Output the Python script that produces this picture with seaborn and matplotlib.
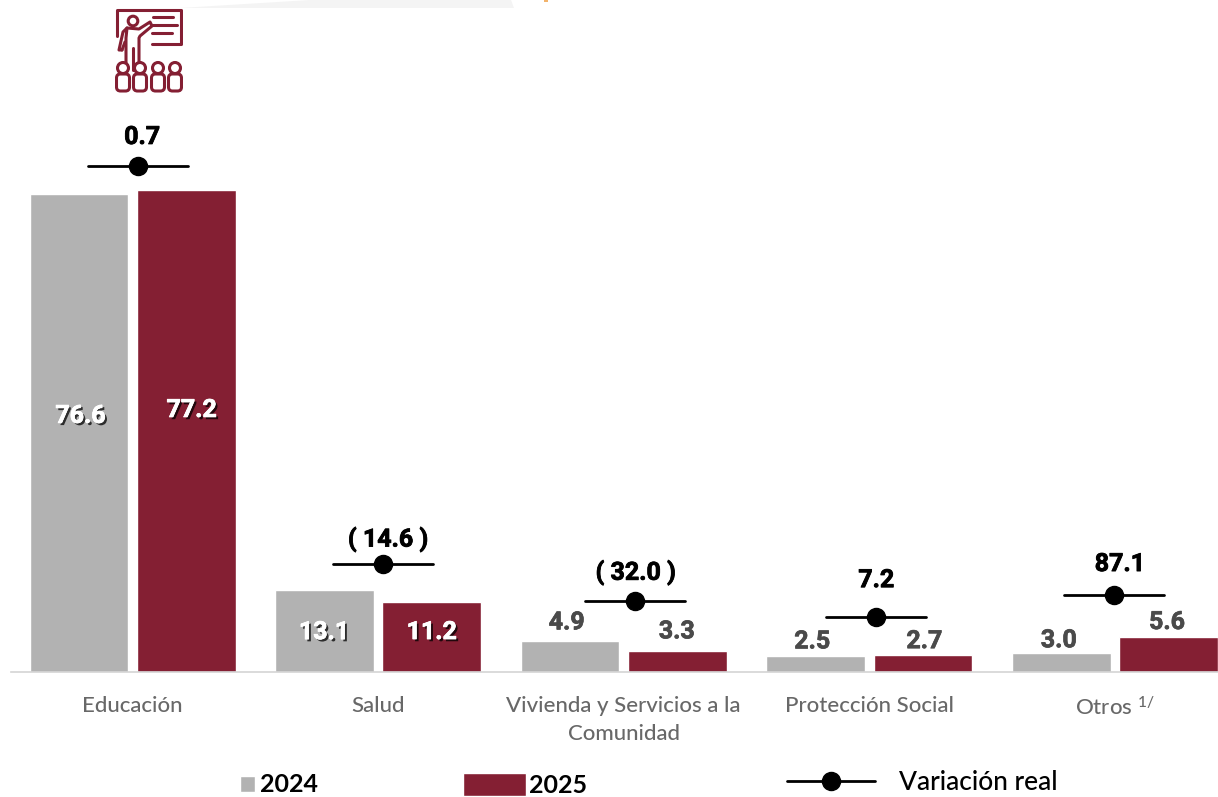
import matplotlib
matplotlib.use("Agg")
import matplotlib.pyplot as plt
import matplotlib.patheffects as pe
from matplotlib.lines import Line2D
from matplotlib.patches import Patch, Polygon, Circle, FancyBboxPatch
import pandas as pd
import seaborn as sns

# Budget shares by function, with the real change between years
categories = ["Educación", "Salud", "Vivienda y Servicios a la\nComunidad",
              "Protección Social", "Otros $^{1/}$"]
values_2024 = [76.6, 13.1, 4.9, 2.5, 3.0]
values_2025 = [77.2, 11.2, 3.3, 2.7, 5.6]
real_change = ["0.7", "( 14.6 )", "( 32.0 )", "7.2", "87.1"]

# Pixel placement of the change markers and the value labels
marker_lift = [24, 26, 40, 38, 42]
marker_shift = [5.5, 5, 11, 7, -1]
change_label_gap = [29, 25, 29, 37, 31]
change_label_shift = [4, 5, 1, 0, 6]
label_gap_2024 = [-17, 1, 19, 15, 13]
label_gap_2025 = [-21, -5, 20, 14, 15]
label_shift_2024 = [1.5, -0.5, -3.5, -3.5, -2.5]
label_shift_2025 = [5.5, 0, -0.5, 1.5, -1.5]

GREY = "#B2B2B2"
MAROON = "#841F33"
TEXT_GREY = "#686868"
DARK_GREY = "#4A4A4A"
FONT = "Lato"
NUMBER_FONT = "Roboto"

W, H = 1218, 797
BASE_PX = 672
PX_PER_UNIT = 6.244
PX_PER_CAT = 245.6
PT = 0.72  # points per pixel at 100 dpi

sns.set_theme(style="white")
plt.rcParams["font.family"] = [FONT, "DejaVu Sans"]
plt.rcParams["mathtext.default"] = "regular"

df = pd.DataFrame({
    "categoria": categories * 2,
    "anio": ["2024"] * 5 + ["2025"] * 5,
    "valor": values_2024 + values_2025,
})

fig = plt.figure(figsize=(W / 100, H / 100), dpi=100, facecolor="white")
ax = fig.add_axes([0, (H - BASE_PX) / H, 1, BASE_PX / H])

sns.barplot(data=df, x="categoria", y="valor", hue="anio", order=categories,
            palette={"2024": GREY, "2025": MAROON}, width=0.873, gap=0.08,
            legend=False, ax=ax, saturation=1)

ax.set_xlim(-0.54, 4.42)
ax.set_ylim(0, BASE_PX / PX_PER_UNIT)
ax.set_xlabel("")
ax.set_ylabel("")
ax.set_yticks([])
ax.tick_params(axis="x", length=0, pad=17, labelsize=16, labelcolor=TEXT_GREY)
for tick in ax.get_xticklabels():
    tick.set_fontweight("medium")
    tick.set_linespacing(1.5)

sns.despine(ax=ax, left=True)
ax.spines["bottom"].set_color("#D4D4D4")
ax.spines["bottom"].set_linewidth(1.2)
ax.spines["bottom"].set_bounds(-0.495, 4.42)

# Value labels: white with a drop shadow inside tall bars, dark above short ones
shadow = [pe.withSimplePatchShadow(offset=(1.6, -1.6), shadow_rgbFace="black", alpha=0.75),
          pe.withStroke(linewidth=0.5, foreground="white")]
for container, gaps, shifts in zip(ax.containers, (label_gap_2024, label_gap_2025),
                                   (label_shift_2024, label_shift_2025)):
    for bar, val, gap, shift in zip(container, container.datavalues, gaps, shifts):
        x = bar.get_x() + bar.get_width() / 2
        inside = gap <= 1
        anchor = val / 2 if inside else val
        lift = -gap if inside else gap
        t = ax.annotate(f"{val:.1f}", (x, anchor), xytext=(shift * PT, lift * PT),
                        textcoords="offset points", ha="center", va="center",
                        fontsize=18, fontweight="bold", family=NUMBER_FONT,
                        color="white" if inside else DARK_GREY)
        t.set_path_effects(shadow if inside
                           else [pe.withStroke(linewidth=0.5, foreground=DARK_GREY)])

# Real-change markers with their labels, floating above each group
half_span = 50 / PX_PER_CAT
for i, (a, b, label) in enumerate(zip(values_2024, values_2025, real_change)):
    mx = i + marker_shift[i] / PX_PER_CAT
    my = max(a, b) + marker_lift[i] / PX_PER_UNIT
    ax.plot([mx - half_span, mx + half_span], [my, my], color="black", lw=2, clip_on=False)
    ax.plot([mx], [my], color="black", marker="o", markersize=13, clip_on=False)
    t = ax.annotate(label, (mx, my), xytext=(change_label_shift[i] * PT, change_label_gap[i] * PT),
                    textcoords="offset points", ha="center", va="center", fontsize=18,
                    fontweight="bold", family=NUMBER_FONT, color="black", annotation_clip=False)
    t.set_path_effects([pe.withStroke(linewidth=0.6, foreground="black")])

# Pale corner of a banner along the top edge, with its small orange accent
to_fig = lambda pts: [(x / W, 1 - y / H) for x, y in pts]
fig.patches.append(Polygon(to_fig([(180, 8), (310, 0), (511, 0), (514, 8)]),
                           fc="#F4F4F4", ec="none", transform=fig.transFigure))
fig.patches.append(Polygon(to_fig([(544, 0), (548, 0), (548, 2), (544, 2)]),
                           fc="#F2B36B", ec="none", transform=fig.transFigure))

# Classroom pictogram above the first group, laid out on a 0-68 by 0-86 grid
icon = fig.add_axes([115 / W, (H - 94) / H, 68 / W, 86 / H])
icon.set_xlim(0, 68)
icon.set_ylim(86, 0)
icon.axis("off")
ink = dict(color=MAROON, lw=2.2, solid_capstyle="round", solid_joinstyle="round")
icon.plot([2, 2, 66, 66, 37], [28, 2, 2, 36, 36], **ink)
icon.plot([38, 58], [9, 9], **ink)
icon.plot([37, 62], [17, 17], **ink)
icon.plot([37, 57], [25, 25], **ink)
icon.add_patch(Circle((18, 13), 4.8, fill=False, ec=MAROON, lw=2.2))
icon.plot([7, 4, 8, 12, 11, 11], [42, 42, 24, 20, 30, 62], **ink)
icon.plot([7, 10], [42, 34], **ink)
icon.plot([12, 24, 35, 37, 25, 24, 24], [20, 21, 14, 18, 28, 30, 62], **ink)
icon.plot([18, 18], [40, 62], **ink)
for cx in (8, 25, 43, 60):
    icon.add_patch(FancyBboxPatch((cx - 6.5, 66), 13, 17, boxstyle="round,pad=0,rounding_size=4",
                                  fc="white", ec=MAROON, lw=2.2, zorder=3))
    icon.add_patch(Circle((cx, 60), 5.5, fc="white", ec=MAROON, lw=2.2, zorder=4))


# One legend per entry, since the entries are unevenly spaced
def legend_at(handle, label, x_px, y_px, weight="bold", size=18, **kw):
    fig.legend([handle], [label], loc="center left", bbox_to_anchor=(x_px / W, 1 - y_px / H),
               frameon=False, borderpad=0, borderaxespad=0, labelcolor="black",
               prop=dict(family=FONT, weight=weight, size=size), **kw)


legend_at(Patch(fc=GREY), "2024", 240, 785, handlelength=0.6, handleheight=0.6, handletextpad=0.2)
legend_at(Patch(fc=MAROON), "2025", 463, 785, handlelength=2.5, handleheight=1, handletextpad=0.13)
legend_at(Line2D([], [], color="black", lw=2, marker="o", markersize=13), "Variación real", 787, 783,
          weight="medium", size=19, handlelength=3.35, handletextpad=0.9)

fig.savefig("out.png", dpi=100)
